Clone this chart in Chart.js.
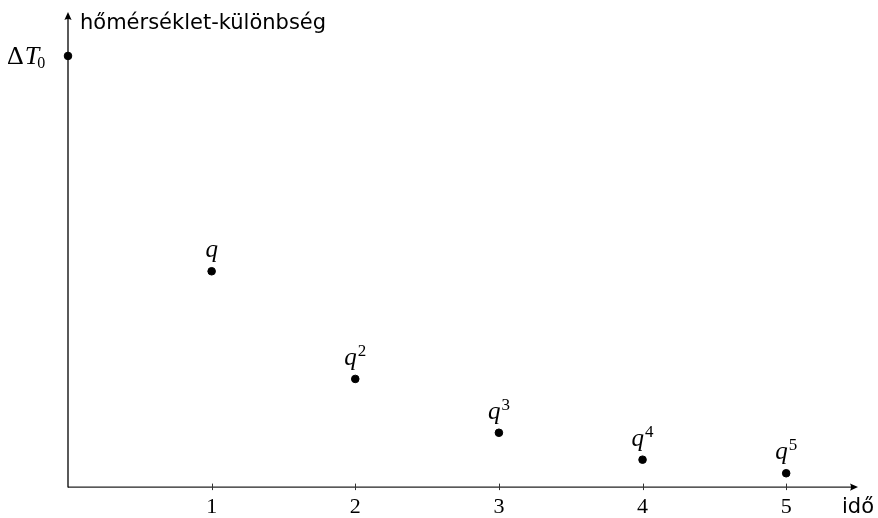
<!DOCTYPE html>
<html>
<head>
<meta charset="utf-8">
<script src="https://cdn.jsdelivr.net/npm/chart.js@4"></script>
<style>
  html, body { margin: 0; padding: 0; background: #fff; }
  #wrap { width: 878px; height: 518px; position: relative; }
</style>
</head>
<body>
<div id="wrap"><canvas id="c" width="878" height="518"></canvas></div>
<script>
// ---- data ----
const times = [0, 1, 2, 3, 4, 5];
const tempDiff = [1, 0.5, 0.25, 0.125, 0.0625, 0.031];
const tickValues = [1, 2, 3, 4, 5];
const labelBases = ['', 'q', 'q', 'q', 'q', 'q'];
const labelExponents = ['', '', '2', '3', '4', '5'];
const yAxisTitle = 'hőmérséklet-különbség';
const xAxisTitle = 'idő';

const SERIF = '"Liberation Serif", "DejaVu Serif", serif';
const SANS = '"DejaVu Sans", "Liberation Sans", sans-serif';

function arrowHead(ctx, x, y, dir) {
  ctx.save();
  ctx.translate(x, y);
  if (dir === 'up') ctx.rotate(-Math.PI / 2);
  ctx.beginPath();
  ctx.moveTo(0, 0);
  ctx.lineTo(-8, -3.6);
  ctx.quadraticCurveTo(-6, 0, -8, 3.6);
  ctx.closePath();
  ctx.fillStyle = '#000';
  ctx.fill();
  ctx.restore();
}

const decorPlugin = {
  id: 'decor',
  afterDraw(chart) {
    const ctx = chart.ctx;
    const xs = chart.scales.x, ys = chart.scales.y;
    const x0 = xs.getPixelForValue(0);
    const y0 = ys.getPixelForValue(0);
    const right = chart.chartArea.right;
    const top = chart.chartArea.top;
    ctx.save();
    // x axis
    ctx.strokeStyle = '#222';
    ctx.lineWidth = 1.1;
    ctx.beginPath();
    ctx.moveTo(x0, y0 + 0.5);
    ctx.lineTo(right - 4, y0 + 0.5);
    ctx.stroke();
    arrowHead(ctx, right, y0 + 0.5, 'right');
    // y axis
    ctx.strokeStyle = '#000';
    ctx.lineWidth = 1.3;
    ctx.beginPath();
    ctx.moveTo(x0, y0 + 1);
    ctx.lineTo(x0, top + 4);
    ctx.stroke();
    arrowHead(ctx, x0, top, 'up');
    // tick marks
    ctx.strokeStyle = '#333';
    ctx.lineWidth = 1;
    tickValues.forEach(v => {
      const px = Math.round(xs.getPixelForValue(v)) + 0.5;
      ctx.beginPath();
      ctx.moveTo(px, y0 - 3);
      ctx.lineTo(px, y0 + 3.5);
      ctx.stroke();
    });
    // point labels
    ctx.fillStyle = '#000';
    ctx.textBaseline = 'alphabetic';
    for (let i = 0; i < times.length; i++) {
      const base = labelBases[i];
      if (!base) continue;
      const px = xs.getPixelForValue(times[i]);
      const py = ys.getPixelForValue(tempDiff[i]);
      const exp = labelExponents[i];
      ctx.font = 'italic 25px ' + SERIF;
      const bw = ctx.measureText(base).width;
      ctx.font = '17px ' + SERIF;
      const ew = exp ? ctx.measureText(exp).width + 1 : 0;
      const startX = px - (bw + ew) / 2;
      const baseY = py - 14;
      ctx.font = 'italic 25px ' + SERIF;
      ctx.textAlign = 'left';
      ctx.fillText(base, startX, baseY);
      if (exp) {
        ctx.font = '17px ' + SERIF;
        ctx.fillText(exp, startX + bw + 1, baseY - 9);
      }
    }
    // ΔT0 label
    {
      const py = ys.getPixelForValue(tempDiff[0]);
      const by = py + 8;
      ctx.textAlign = 'left';
      ctx.font = '26px ' + SERIF;
      let x = 7;
      ctx.fillText('Δ', x, by);
      x += ctx.measureText('Δ').width + 1;
      ctx.font = 'italic 26px ' + SERIF;
      ctx.fillText('T', x, by);
      x += ctx.measureText('T').width - 2;
      ctx.font = '16px ' + SERIF;
      ctx.fillText('0', x, by + 4);
    }
    // axis titles
    ctx.font = '21px ' + SANS;
    ctx.textAlign = 'left';
    ctx.textBaseline = 'middle';
    ctx.fillText(yAxisTitle, x0 + 12, top + 12);
    ctx.fillText(xAxisTitle, right - 16, y0 + 21);
    ctx.restore();
  }
};

new Chart(document.getElementById('c'), {
  type: 'scatter',
  data: {
    datasets: [{
      data: times.map((t, i) => ({ x: t, y: tempDiff[i] })),
      backgroundColor: '#000',
      borderColor: '#000',
      pointRadius: 3.8,
      pointHoverRadius: 3.8,
      clip: false
    }]
  },
  options: {
    responsive: false,
    animation: false,
    events: [],
    layout: { padding: { left: 68, right: 20, top: 12, bottom: -9 } },
    plugins: { legend: { display: false }, tooltip: { enabled: false } },
    scales: {
      x: {
        type: 'linear',
        min: 0,
        max: 5.5,
        grid: { display: false, drawTicks: false },
        border: { display: false },
        afterBuildTicks(scale) { scale.ticks = tickValues.map(v => ({ value: v })); },
        ticks: {
          color: '#000',
          padding: 7,
          font: { family: SERIF, size: 22 },
          callback: v => String(v)
        }
      },
      y: {
        display: false,
        min: 0,
        max: 1.102
      }
    }
  },
  plugins: [decorPlugin]
});
</script>
</body>
</html>
